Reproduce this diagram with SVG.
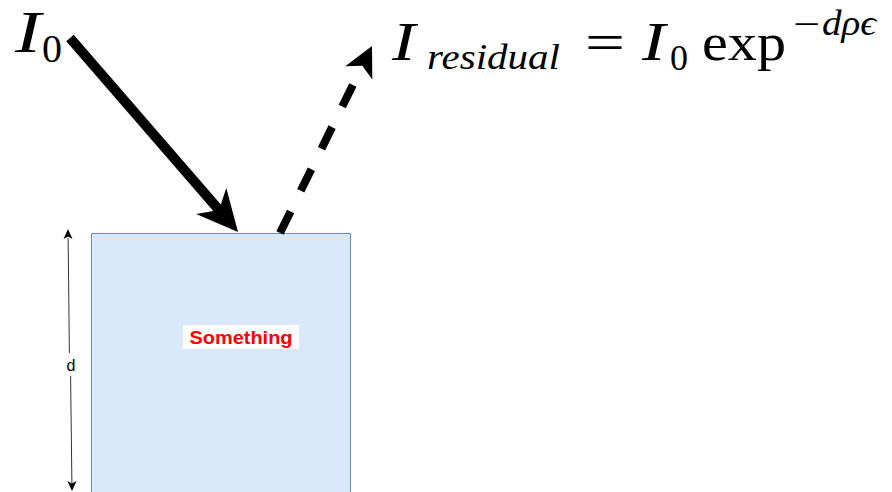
<svg xmlns="http://www.w3.org/2000/svg" width="892" height="492" viewBox="0 0 892 492">
<style>
.m{font-family:'Liberation Serif','Times New Roman',serif;fill:#000}
.it{font-style:italic}
.lbl{font-family:'Liberation Sans',Arial,sans-serif}
</style>
<rect width="892" height="492" fill="#fff"/>
<g id="box">
<rect x="91.5" y="233.5" width="259" height="270" fill="#dae8fc" stroke="#6c8ebf" stroke-width="1"/>
<rect x="183" y="325" width="116" height="24" fill="#fff"/>
<text class="lbl" x="241" y="344" font-size="19" font-weight="bold" fill="#ff0000" text-anchor="middle" textLength="103" lengthAdjust="spacingAndGlyphs">Something</text>
</g>
<g id="connectors">
<line x1="70" y1="38" x2="219" y2="210" stroke="#000" stroke-width="10"/>
<polygon points="238,232 196.1,214.1 219,210.1 226.3,187.9" fill="#000"/>
<line x1="280" y1="233" x2="358.6" y2="73.3" stroke="#000" stroke-width="8" stroke-dasharray="24 23"/>
<polygon points="372,46 345.3,66.3 362.3,65.7 372.3,79.5" fill="#000"/>
<line x1="68.1" y1="238" x2="69.4" y2="353" stroke="#333" stroke-width="1"/>
<line x1="70.6" y1="376" x2="71.9" y2="483" stroke="#333" stroke-width="1"/>
<path d="M68,229 L72.5,239 L68.1,236.5 L63.5,239.1 Z" fill="#000"/>
<path d="M72,491 L67.5,481 L71.9,483.5 L76.5,480.9 Z" fill="#000"/>
<text class="lbl" x="71" y="371" font-size="16" text-anchor="middle" fill="#000">d</text>
</g>
<g id="I0">
<text class="m it" transform="translate(15,52) scale(1.3,1)" font-size="60">I</text>
<text class="m" x="42" y="62" font-size="40">0</text>
</g>
<g id="formula">
<text class="m it" transform="translate(392,60) scale(1.3,1)" font-size="54">I</text>
<text class="m it" x="427" y="69" font-size="36" textLength="133" lengthAdjust="spacingAndGlyphs">residual</text>
<text class="m" x="585" y="60" font-size="52" textLength="40" lengthAdjust="spacingAndGlyphs">=</text>
<text class="m it" transform="translate(642,60) scale(1.3,1)" font-size="54">I</text>
<text class="m" x="670" y="70" font-size="36">0</text>
<text class="m" x="702" y="60" font-size="52" textLength="84" lengthAdjust="spacingAndGlyphs">exp</text>
<text class="m" x="793" y="36" font-size="36" textLength="27" lengthAdjust="spacingAndGlyphs">−</text>
<text class="m it" x="822" y="35" font-size="36" textLength="54" lengthAdjust="spacingAndGlyphs">dρϵ</text>
</g>
</svg>
